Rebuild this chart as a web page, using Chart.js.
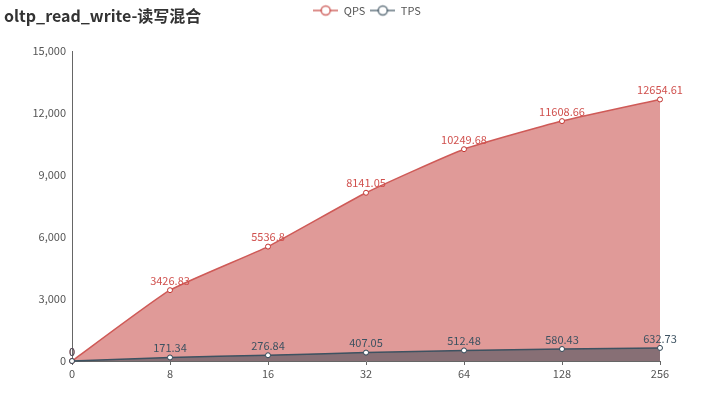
<!DOCTYPE html>
<html>
<head>
<meta charset="utf-8">
<script src="https://cdn.jsdelivr.net/npm/chart.js@4/dist/chart.umd.min.js"></script>
<style>
  html, body { margin: 0; padding: 0; background: #fff; }
  #wrap { position: relative; width: 727px; height: 394px; }
  #title { position: absolute; left: 4px; top: 3px; font: bold 16px "Noto Sans CJK SC", "Noto Sans", sans-serif; color: #333; white-space: nowrap; z-index: 2; }
  canvas { position: absolute; left: 0; top: 0; }
</style>
</head>
<body>
<div id="wrap">
  <div id="title">oltp_read_write-读写混合</div>
  <canvas id="c" width="727" height="394"></canvas>
</div>
<script>
const categories = ['0', '8', '16', '32', '64', '128', '256'];
const qpsValues = [0, 3426.83, 5536.8, 8141.05, 10249.68, 11608.66, 12654.61];
const tpsValues = [0, 171.34, 276.84, 407.05, 512.48, 580.43, 632.73];
const seriesNames = ['QPS', 'TPS'];
const yMin = 0, yMax = 15000, yStep = 3000;

const QPS_COLOR = '#c23531';
const TPS_COLOR = '#2f4554';
const FONT = '"Noto Sans CJK SC", "Noto Sans", sans-serif';

function legendIcon(color) {
  const cv = document.createElement('canvas');
  cv.width = 25; cv.height = 14;
  const ctx = cv.getContext('2d');
  ctx.globalAlpha = 0.75;
  ctx.strokeStyle = color; ctx.lineWidth = 1.5;
  ctx.beginPath(); ctx.moveTo(0, 7); ctx.lineTo(25, 7); ctx.stroke();
  ctx.globalAlpha = 1;
  ctx.fillStyle = '#fff';
  ctx.beginPath(); ctx.arc(12.5, 7, 4.5, 0, Math.PI * 2); ctx.fill();
  ctx.globalAlpha = 0.75;
  ctx.stroke();
  return cv;
}
const icons = [legendIcon(QPS_COLOR), legendIcon(TPS_COLOR)];

const legendBox = {
  id: 'legendBox',
  beforeInit(chart) {
    const fit = chart.legend.fit;
    chart.legend.fit = function () { fit.call(this); this.height = 51; };
  },
  afterLayout(chart) {
    const lg = chart.legend;
    lg.left = 0; lg.right = 734; lg.width = 734;
  }
};

const valueLabels = {
  id: 'valueLabels',
  afterDatasetsDraw(chart) {
    const ctx = chart.ctx;
    ctx.save();
    ctx.font = '11px ' + FONT;
    ctx.textAlign = 'center';
    ctx.textBaseline = 'bottom';
    chart.data.datasets.forEach((ds, i) => {
      const meta = chart.getDatasetMeta(i);
      ctx.fillStyle = ds.labelColor;
      meta.data.forEach((pt, j) => {
        ctx.fillText(String(ds.data[j]), pt.x, pt.y - 4);
      });
    });
    ctx.restore();
  }
};

new Chart(document.getElementById('c'), {
  type: 'line',
  data: {
    labels: categories,
    datasets: [
      {
        label: seriesNames[0], data: qpsValues, order: 1, labelColor: '#d0504d',
        borderColor: '#cf5a57', backgroundColor: 'rgba(194,53,49,0.5)',
        borderWidth: 1.5, fill: 'origin', tension: 0.15,
        pointRadius: 2.5, pointBackgroundColor: '#fff', pointBorderColor: QPS_COLOR, pointBorderWidth: 1,
        clip: false
      },
      {
        label: seriesNames[1], data: tpsValues, order: 0, labelColor: '#3d5261',
        borderColor: '#3d5261', backgroundColor: 'rgba(47,69,84,0.5)',
        borderWidth: 1.5, fill: 'origin', tension: 0.15,
        pointRadius: 2.5, pointBackgroundColor: '#fff', pointBorderColor: TPS_COLOR, pointBorderWidth: 1,
        clip: false
      }
    ]
  },
  options: {
    responsive: false,
    animation: false,
    layout: { padding: { left: 0, right: 67, top: 0, bottom: 0 } },
    plugins: {
      title: { display: false },
      tooltip: { enabled: false },
      legend: {
        display: true,
        position: 'top',
        labels: {
          usePointStyle: true,
          pointStyleWidth: 25,
          boxHeight: 14,
          padding: 5,
          color: '#555',
          font: { family: FONT, size: 11 },
          generateLabels(chart) {
            return chart.data.datasets.map((ds, i) => ({
              text: ds.label,
              pointStyle: icons[i],
              fillStyle: '#fff',
              strokeStyle: ds.borderColor,
              fontColor: '#555',
              lineWidth: 0,
              hidden: false,
              datasetIndex: i
            }));
          }
        }
      }
    },
    scales: {
      x: {
        type: 'category',
        offset: false,
        grid: { display: true, drawOnChartArea: false, drawTicks: true, tickLength: 4, color: '#666' },
        border: { display: true, color: '#666', width: 1 },
        ticks: { color: '#555', font: { family: FONT, size: 11 }, padding: 2, maxRotation: 0, autoSkip: false },
        afterFit(scale) { scale.height = 33; }
      },
      y: {
        min: yMin, max: yMax,
        grid: { display: false, drawTicks: false },
        border: { display: true, color: '#666', width: 1 },
        ticks: {
          stepSize: yStep, color: '#555', font: { family: FONT, size: 11 }, padding: 6,
          callback: v => v.toLocaleString('en-US')
        },
        afterFit(scale) { scale.width = 72; }
      }
    }
  },
  plugins: [legendBox, valueLabels]
});
</script>
</body>
</html>
